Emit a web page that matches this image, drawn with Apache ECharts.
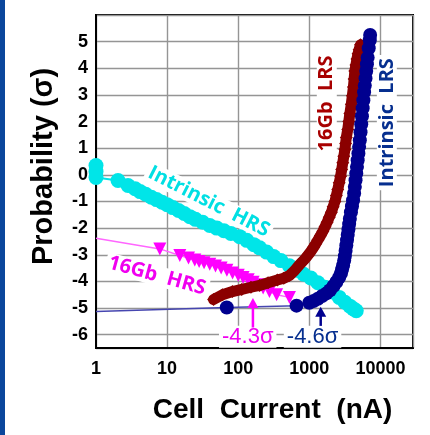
<!DOCTYPE html>
<html>
<head>
<meta charset="utf-8">
<script src="https://cdn.jsdelivr.net/npm/echarts@6.0.0/dist/echarts.min.js"></script>
<style>
  html, body { margin: 0; padding: 0; background: #fff; }
  #c { width: 430px; height: 435px; }
</style>
</head>
<body>
<div id="c"></div>
<script>
// ---------------- data ----------------
const xTickLabels = ['1', '10', '100', '1000', '10000'];
const yTickLabels = ['-6', '-5', '-4', '-3', '-2', '-1', '0', '1', '2', '3', '4', '5'];

// Intrinsic HRS (cyan circles): cell current (nA), probability (sigma)
const intrinsicHrsX = [1, 1, 1, 2.04, 2.82, 3.55, 4.17, 5.0, 6.0, 7.1, 8.5,
  10, 12, 14.5, 17.4, 20.9, 25.1, 31.6, 39.8, 50, 63, 79,
  105, 132, 166, 200, 251, 316, 398, 525, 661, 832,
  1050, 1320, 1660, 2090, 2630, 3160, 3720, 4170, 4570];
const intrinsicHrsY = [0.35, 0.12, -0.1, -0.21, -0.40, -0.52, -0.63, -0.73, -0.84, -0.93, -1.03,
  -1.12, -1.23, -1.34, -1.45, -1.57, -1.67, -1.78, -1.90, -2.00, -2.10, -2.20,
  -2.32, -2.46, -2.62, -2.74, -2.90, -3.07, -3.22, -3.41, -3.58, -3.73,
  -3.87, -4.05, -4.22, -4.40, -4.60, -4.78, -4.93, -5.03, -5.10];

// 16Gb HRS (magenta triangles); first value is where the trace enters at the left edge
const hrs16X = [1, 7.9, 15.1, 20, 24.5, 28.2, 33.1, 39.8, 47.9, 57.5, 69.2, 83.2,
  100, 117, 138, 162, 191, 224, 275, 347, 525];
const hrs16Y = [-2.38, -2.78, -3.03, -3.12, -3.20, -3.25, -3.30, -3.36, -3.42, -3.50, -3.58, -3.68,
  -3.77, -3.85, -3.94, -4.03, -4.13, -4.25, -4.38, -4.50, -4.60];

// 16Gb LRS (dark red diamonds)
const lrs16X = [45, 60, 83, 112, 151, 200, 263, 355, 437, 525, 617,
  724, 794, 851, 923, 1000, 1072, 1148, 1230, 1318, 1429, 1549, 1660, 1778, 1905,
  2042, 2163, 2291, 2399, 2512, 2630, 2754, 2851, 2951, 3055, 3162, 3236, 3311, 3467,
  3589, 3715, 3890, 4027, 4169, 4266, 4365, 4519, 4677, 4842, 5012, 5248];
const lrs16Y = [-4.68, -4.50, -4.38, -4.30, -4.22, -4.15, -4.05, -3.95, -3.88, -3.78, -3.60,
  -3.38, -3.27, -3.18, -3.07, -2.95, -2.84, -2.72, -2.59, -2.45, -2.29, -2.12, -1.95, -1.78, -1.59,
  -1.40, -1.20, -1.00, -0.78, -0.55, -0.30, -0.05, 0.20, 0.45, 0.70, 0.95, 1.18, 1.40, 1.70,
  2.00, 2.30, 2.65, 2.97, 3.30, 3.60, 3.90, 4.12, 4.35, 4.55, 4.70, 4.88];

// Intrinsic LRS (navy circles); first value is where the trace enters at the left edge
const intrinsicLrsX = [1, 69, 661, 1000, 1148, 1318, 1514, 1738, 1950, 2188, 2399, 2630,
  2786, 2884, 2985, 3090, 3162, 3236, 3311, 3388, 3467, 3548, 3631, 3715, 3846, 3981,
  4121, 4266, 4365, 4467, 4571, 4677, 4786, 4898, 5012, 5129, 5248, 5370, 5495, 5623,
  5754, 5888, 6026, 6166, 6310, 6457, 6607, 6839, 7079, 7161];
const intrinsicLrsY = [-5.13, -4.98, -4.91, -4.80, -4.74, -4.65, -4.55, -4.45, -4.33, -4.17, -4.02, -3.85,
  -3.70, -3.55, -3.40, -3.22, -3.05, -2.85, -2.65, -2.45, -2.25, -2.05, -1.85, -1.65, -1.40, -1.18,
  -0.95, -0.70, -0.45, -0.20, 0.05, 0.30, 0.55, 0.80, 1.05, 1.30, 1.60, 1.90, 2.20, 2.50,
  2.80, 3.10, 3.35, 3.62, 3.90, 4.15, 4.40, 4.75, 5.05, 5.25];

// ---------------- chart ----------------
const pair = (xs, ys) => xs.map((x, i) => [x, ys[i]]);
const near = (a, b) => Math.abs(a - b) < 1e-6;

const C_CYAN = '#00e5e8';
const C_MAG = '#ff00ff';
const C_RED = '#8b0000';
const C_NAVY = '#00008f';
const GRID_LINE = { color: '#959595', width: 1.4 };
const AXIS_FONT = '"Liberation Sans", Arial, sans-serif';
const LABEL_FONT = '"Open Sans", "Liberation Sans", sans-serif';

const chart = echarts.init(document.getElementById('c'), null, { renderer: 'canvas', width: 430, height: 435 });

const option = {
  backgroundColor: '#ffffff',
  animation: false,
  grid: { left: 96, right: 17, top: 15, bottom: 87, show: true, borderColor: '#000', borderWidth: 2, containLabel: false },
  xAxis: {
    type: 'log', logBase: 10, min: 1, max: 28700,
    axisLine: { show: true, onZero: false, lineStyle: { color: '#000', width: 2 } },
    axisTick: { show: false },
    splitLine: { show: true, lineStyle: GRID_LINE },
    axisLabel: {
      color: '#000', fontFamily: AXIS_FONT, fontWeight: 'bold', fontSize: 18, margin: 12,
      formatter: v => {
        const l = Math.log10(v);
        const k = Math.round(l);
        return near(l, k) && xTickLabels[k] !== undefined ? xTickLabels[k] : '';
      }
    },
    name: 'Cell  Current  (nA)', nameLocation: 'middle', nameGap: 48,
    nameTextStyle: { color: '#000', fontFamily: AXIS_FONT, fontWeight: 'bold', fontSize: 28, padding: [0, 0, 0, 36] }
  },
  yAxis: {
    type: 'value', min: -6.5, max: 6, splitNumber: 12,
    axisLine: { show: true, onZero: false, lineStyle: { color: '#000', width: 2 } },
    axisTick: { show: false },
    splitLine: { show: true, lineStyle: GRID_LINE },
    axisLabel: {
      color: '#000', fontFamily: AXIS_FONT, fontWeight: 'bold', fontSize: 18, margin: 8,
      formatter: v => {
        const k = Math.round(v);
        return near(v, k) && yTickLabels.indexOf(String(k)) >= 0 ? String(k) : '';
      }
    },
    name: 'Probability (σ)', nameLocation: 'middle', nameGap: 38,
    nameTextStyle: { color: '#000', fontFamily: AXIS_FONT, fontWeight: 'bold', fontSize: 29, padding: [0, 0, 0, 30] }
  },
  series: [
    {
      name: 'Intrinsic HRS', type: 'line', data: pair(intrinsicHrsX, intrinsicHrsY),
      symbol: 'circle', symbolSize: 15, itemStyle: { color: C_CYAN },
      lineStyle: { color: C_CYAN, width: 2 }, z: 2
    },
    {
      name: '16Gb HRS', type: 'line', data: pair(hrs16X, hrs16Y),
      symbol: 'triangle', symbolRotate: 180,
      symbolSize: (v, p) => p.dataIndex === 0 ? 0 : 13,
      itemStyle: { color: C_MAG }, lineStyle: { color: '#ff66ff', width: 1.5 }, z: 3
    },
    {
      name: '16Gb LRS', type: 'line', data: pair(lrs16X, lrs16Y),
      symbol: 'diamond', symbolSize: 13, itemStyle: { color: C_RED },
      lineStyle: { color: C_RED, width: 11, cap: 'round', join: 'round' }, z: 4
    },
    {
      name: 'Intrinsic LRS', type: 'line', data: pair(intrinsicLrsX, intrinsicLrsY),
      symbol: 'circle',
      symbolSize: (v, p) => p.dataIndex === 0 ? 0 : 14,
      itemStyle: { color: C_NAVY }, lineStyle: { color: '#4646b0', width: 1.5 }, z: 5
    }
  ]
};
chart.setOption(option);

// ---------------- annotations, anchored in data coordinates ----------------
const px = (x, y) => chart.convertToPixel({ gridIndex: 0 }, [x, y]);
const annotations = [
  { text: 'Intrinsic  HRS', at: [38.5, -1.01], rot: -0.47, color: '#00dfe3', size: 20, weight: 'bold', font: LABEL_FONT },
  { text: '16Gb  HRS', at: [7.2, -3.79], rot: -0.27, color: '#f000f0', size: 20, weight: 'bold', font: LABEL_FONT },
  { text: '16Gb  LRS', at: [1760, 2.68], rot: Math.PI / 2, color: '#a80000', size: 20, weight: 'bold', font: LABEL_FONT },
  { text: 'Intrinsic  LRS', at: [12300, 1.96], rot: Math.PI / 2, color: '#062f8f', size: 20, weight: 'bold', font: LABEL_FONT },
  { text: '-4.3σ', at: [136, -6.08], rot: 0, color: '#f000f0', size: 22, weight: 'normal', font: AXIS_FONT },
  { text: '-4.6σ', at: [1110, -6.08], rot: 0, color: '#062f8f', size: 22, weight: 'normal', font: AXIS_FONT }
];
const arrows = [
  { x: 161, from: -5.73, to: -4.62, color: '#ff00ff' },
  { x: 1445, from: -5.67, to: -4.95, color: '#00008f' }
];

const graphics = [
  { type: 'rect', shape: { x: 0, y: 0, width: 5, height: 435 }, style: { fill: '#0b479c' }, z: 10 }
];
annotations.forEach(a => {
  const p = px(a.at[0], a.at[1]);
  graphics.push({
    type: 'text', x: p[0], y: p[1], rotation: a.rot, z: 1,
    style: {
      text: a.text, fill: a.color, fontSize: a.size, fontWeight: a.weight, fontFamily: a.font,
      align: 'center', verticalAlign: 'middle', backgroundColor: '#fff', padding: [0, 3]
    }
  });
});
arrows.forEach(a => {
  const b = px(a.x, a.from);
  const t = px(a.x, a.to);
  graphics.push({
    type: 'line', z: 6,
    shape: { x1: b[0], y1: b[1], x2: t[0], y2: t[1] + 6 },
    style: { stroke: a.color, lineWidth: 2.5 }
  });
  graphics.push({
    type: 'polygon', z: 6,
    shape: { points: [[t[0], t[1]], [t[0] - 5.5, t[1] + 10], [t[0] + 5.5, t[1] + 10]] },
    style: { fill: a.color }
  });
});
chart.setOption({ graphic: graphics });
</script>
</body>
</html>
